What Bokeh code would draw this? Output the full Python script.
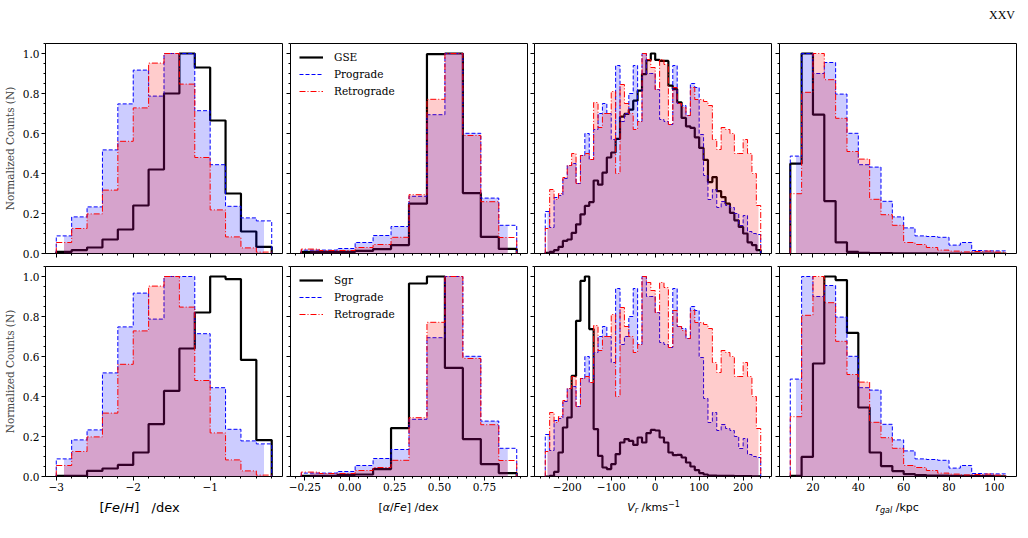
import numpy as np
from bokeh.plotting import figure
from bokeh.layouts import column, row
from bokeh.models import (Range1d, SingleIntervalTicker, CustomJSTickFormatter,
                          Legend, LegendItem)
from bokeh.core.properties import value
from bokeh.embed import file_html
from bokeh.resources import INLINE

# ---------------- data ----------------
feh_edges = [-3.0, -2.8, -2.6, -2.4, -2.2, -2.0, -1.8, -1.6, -1.4, -1.2, -1.0, -0.8, -0.6, -0.4, -0.2]
feh_gse = [0.008, 0.017, 0.03, 0.07, 0.12, 0.24, 0.42, 0.80, 1.0, 0.93, 0.665, 0.30, 0.11, 0.033]
feh_sgr = [0.003, 0.003, 0.028, 0.04, 0.058, 0.12, 0.262, 0.428, 0.64, 0.82, 1.0, 0.987, 0.583, 0.182]
feh_pro = [0.088, 0.183, 0.233, 0.518, 0.748, 0.917, 0.787, 1.0, 1.0, 0.714, 0.444, 0.236, 0.178, 0.163]
feh_ret = [0.055, 0.125, 0.198, 0.317, 0.561, 0.728, 0.952, 1.0, 0.847, 0.48, 0.218, 0.083, 0.028, 0.007]

afe_edges = [-0.27, -0.17, -0.07, 0.03, 0.13, 0.23, 0.33, 0.43, 0.53, 0.63, 0.73, 0.83, 0.93]
afe_gse = [0.008, 0.008, 0.008, 0.013, 0.022, 0.042, 0.249, 0.997, 1.0, 0.302, 0.083, 0.023]
afe_sgr = [0.003, 0.003, 0.008, 0.01, 0.037, 0.242, 0.965, 1.0, 0.543, 0.187, 0.062, 0.017]
afe_pro = [0.017, 0.017, 0.025, 0.055, 0.09, 0.135, 0.286, 0.694, 1.0, 0.601, 0.277, 0.141]
afe_ret = [0.022, 0.015, 0.015, 0.03, 0.045, 0.081, 0.294, 0.771, 1.0, 0.59, 0.259, 0.08]

vr_edges = np.arange(-250, 241, 10)
vr_gse = [0.003, 0.008, 0.017, 0.033, 0.063, 0.07, 0.103, 0.146, 0.196, 0.238,
          0.257, 0.365, 0.344, 0.404, 0.48, 0.505, 0.573, 0.684, 0.698, 0.719,
          0.764, 0.814, 0.897, 0.967, 1.0, 0.968, 0.963, 0.963, 0.839, 0.822,
          0.756, 0.678, 0.636, 0.628, 0.581, 0.528, 0.468, 0.357, 0.382, 0.312,
          0.282, 0.249, 0.203, 0.166, 0.133, 0.10, 0.056, 0.042, 0.017]
vr_sgr = [0.0, 0.003, 0.023, 0.12, 0.245, 0.295, 0.503, 0.778, 0.978, 1.0,
          0.737, 0.237, 0.103, 0.045, 0.037, 0.062, 0.112, 0.17, 0.187, 0.178,
          0.158, 0.195, 0.17, 0.217, 0.233, 0.23, 0.195, 0.17, 0.12, 0.107,
          0.108, 0.095, 0.07, 0.05, 0.032, 0.017, 0.01, 0.005, 0.004, 0.003,
          0.003, 0.003, 0.003, 0.002, 0.002, 0.002, 0.002, 0.001, 0.001]
vr_pro = [0.21, 0.13, 0.28, 0.29, 0.375, 0.44, 0.45, 0.35, 0.49, 0.60,
          0.47, 0.62, 0.70, 0.75, 0.70, 0.57, 0.94, 0.66, 0.70, 0.80,
          0.94, 0.66, 1.0, 0.90, 0.90, 0.82, 0.67, 0.66, 0.645, 0.94,
          0.75, 0.74, 0.69, 0.85, 0.83, 0.595, 0.39, 0.27, 0.32, 0.23,
          0.26, 0.24, 0.23, 0.20, 0.14, 0.19, 0.11, 0.10, 0.095]
vr_ret = [0.125, 0.32, 0.27, 0.30, 0.38, 0.44, 0.50, 0.35, 0.49, 0.50,
          0.47, 0.755, 0.63, 0.70, 0.70, 0.81, 0.40, 0.845, 0.75, 0.70,
          0.62, 0.66, 1.0, 0.97, 0.93, 0.82, 0.97, 0.945, 0.645, 0.83,
          0.75, 0.73, 0.69, 0.83, 0.77, 0.77, 0.76, 0.74, 0.57, 0.52,
          0.63, 0.62, 0.60, 0.50, 0.50, 0.57, 0.50, 0.40, 0.24]

rg_edges = np.arange(10, 106, 5)
rg_gse = [0.449, 1.0, 0.694, 0.262, 0.056, 0.008, 0.003, 0.002, 0.002, 0.001,
          0.001, 0.001, 0.001, 0.0, 0.0, 0.0, 0.0, 0.0, 0.0]
rg_sgr = [0.003, 0.098, 0.565, 1.0, 0.982, 0.718, 0.345, 0.12, 0.052, 0.027,
          0.012, 0.007, 0.005, 0.004, 0.003, 0.003, 0.002, 0.002, 0.001]
rg_pro = [0.487, 1.0, 0.90, 0.955, 0.797, 0.601, 0.444, 0.432, 0.261, 0.183,
          0.128, 0.088, 0.085, 0.081, 0.042, 0.055, 0.015, 0.013, 0.013]
rg_ret = [0.299, 0.806, 1.0, 0.869, 0.676, 0.51, 0.472, 0.271, 0.194, 0.141,
          0.055, 0.045, 0.03, 0.017, 0.012, 0.008, 0.01, 0.012, 0.007]

groups = ["GSE", "Sgr"]
series_labels = ["Prograde", "Retrograde"]
y_label = "Normalized Counts (N)"
header = "XXV"

# x-axis labels as (text, italic, size, baseline shift) pieces; "GAP" jumps to a fixed x
xlabels = [
    [("[", False, 13, 0), ("Fe", True, 13, 0), ("/", False, 13, 0), ("H", True, 13, 0), ("]", False, 13, 0), ("GAP", False, 0, 0), ("/dex", False, 13, 0)],
    [("[", False, 11, 0), ("α", True, 11, 0), ("/", False, 11, 0), ("Fe", True, 11, 0), ("]", False, 11, 0), (" /dex", False, 11, 0)],
    [("V", True, 11, 0), ("r", True, 8, 3), (" /kms", False, 11, 0), ("−1", False, 8, -4)],
    [("r", True, 11, 0), ("gal", True, 8, 3), (" /kpc", False, 11, 0)],
]

# ---------------- helpers ----------------
def outline(edges, counts):
    e = list(map(float, edges))
    xs, ys = [e[0]], [0.0]
    for i, c in enumerate(counts):
        xs += [e[i], e[i + 1]]
        ys += [c, c]
    xs.append(e[-1]); ys.append(0.0)
    return xs, ys

def midfill(edges, counts):
    e = list(map(float, edges))
    n = len(counts)
    cen = [(e[i] + e[i + 1]) / 2 for i in range(n)]
    xs, ys = [cen[0]], [counts[0]]
    for i in range(1, n):
        xs += [e[i], e[i]]
        ys += [counts[i - 1], counts[i]]
    xs.append(cen[-1]); ys.append(counts[-1])
    return xs, ys

CW = {'[': .390, ']': .390, '/': .337, 'F': .575, 'e': .615, 'H': .752, ' ': .318,
      'd': .635, 'x': .592, 'α': .659, 'V': .684, 'r': .411, 'k': .579, 'm': .974,
      's': .521, '−': .838, '1': .636, 'g': .635, 'a': .613, 'l': .278, 'p': .635, 'c': .550}

def text_width(t, size):
    return sum(CW.get(ch, 0.6) for ch in t) * size

SERIF = "DejaVu Serif"
FS = "10.5px"

panels = [
    dict(edges=feh_edges, main=(feh_gse, feh_sgr), pro=feh_pro, ret=feh_ret,
         xr=(-3.14, -0.06), interval=1.0, minor=5, fmt=0),
    dict(edges=afe_edges, main=(afe_gse, afe_sgr), pro=afe_pro, ret=afe_ret,
         xr=(-0.33, 0.99), interval=0.25, minor=5, fmt=2),
    dict(edges=vr_edges, main=(vr_gse, vr_sgr), pro=vr_pro, ret=vr_ret,
         xr=(-274.5, 264.5), interval=100, minor=5, fmt=0),
    dict(edges=rg_edges, main=(rg_gse, rg_sgr), pro=rg_pro, ret=rg_ret,
         xr=(5.25, 109.75), interval=20, minor=4, fmt=0),
]

borders_lr = [(45, 3), (5, 3), (4, 3), (5, 12)]
FW, FH = 237, 210
TOP_STRIP, BOT_STRIP = 30, 43
label_starts = [99, 378, 626.7, 875]
label_gap_to = 151

def fmt_js(nd):
    return CustomJSTickFormatter(code=f"return tick.toFixed({nd}).replace('-', '\u2212');")

blank = "return '';"

def strip(h):
    s = figure(frame_width=1028, frame_height=h, x_range=Range1d(0, 1028), y_range=Range1d(h, 0),
               output_backend="svg", toolbar_location=None, title=None,
               x_axis_type=None, y_axis_type=None,
               min_border_left=0, min_border_right=0, min_border_top=0, min_border_bottom=0)
    s.outline_line_color = None
    s.xgrid.visible = False
    s.ygrid.visible = False
    s.background_fill_color = "white"
    s.border_fill_color = "white"
    return s

top = strip(TOP_STRIP)
top.text(x=[1001.5], y=[14], text=[header], text_align="center", text_baseline="middle",
         text_font=value("Liberation Serif"), text_font_size="12px", text_color="black")

bottom = strip(BOT_STRIP)
for k, pieces in enumerate(xlabels):
    x = label_starts[k]
    base = 12
    for (t, ital, size, dy) in pieces:
        if t == "GAP":
            x = label_gap_to
            continue
        while t.startswith(" "):
            x += CW[' '] * size
            t = t[1:]
        bottom.text(x=[x], y=[base + dy], text=[t], text_align="left", text_baseline="alphabetic",
                    text_font=value("DejaVu Sans"), text_font_size=f"{size}px",
                    text_font_style="italic" if ital else "normal", text_color="black")
        x += text_width(t, size)

rows = [top]
for r in range(2):
    figs = []
    for c, pan in enumerate(panels):
        bl, br = borders_lr[c]
        p = figure(frame_width=FW, frame_height=FH,
                   x_range=Range1d(*pan["xr"]), y_range=Range1d(0, 1.05),
                   output_backend="svg", toolbar_location=None,
                   min_border_left=bl, min_border_right=br,
                   min_border_top=13 if r == 0 else 7,
                   min_border_bottom=6 if r == 0 else 19)
        p.xgrid.visible = False
        p.ygrid.visible = False
        p.outline_line_color = "black"
        p.outline_line_alpha = 1.0
        p.background_fill_color = "white"
        p.border_fill_color = "white"

        for ax in (p.xaxis[0], p.yaxis[0]):
            ax.axis_line_color = None
            ax.major_tick_out = 4
            ax.major_tick_in = 0
            ax.minor_tick_out = 2
            ax.minor_tick_in = 0
            ax.major_tick_line_color = "black"
            ax.minor_tick_line_color = "black"
            ax.major_label_text_font = SERIF
            ax.major_label_text_font_size = FS
            ax.major_label_text_color = "black"
            ax.major_label_standoff = 2
        p.xaxis.ticker = SingleIntervalTicker(interval=pan["interval"], num_minor_ticks=pan["minor"])
        p.yaxis.ticker = SingleIntervalTicker(interval=0.2, num_minor_ticks=4)

        if r == 1:
            p.xaxis.formatter = fmt_js(pan["fmt"])
        else:
            p.xaxis.formatter = CustomJSTickFormatter(code=blank)
            p.xaxis.major_label_standoff = 0
        if c == 0:
            p.yaxis.formatter = fmt_js(1)
            p.yaxis.axis_label = y_label
            p.yaxis.axis_label_text_font = SERIF
            p.yaxis.axis_label_text_font_size = FS
            p.yaxis.axis_label_text_font_style = "normal"
            p.yaxis.axis_label_standoff = 4
        else:
            p.yaxis.formatter = CustomJSTickFormatter(code=blank)
            p.yaxis.major_label_standoff = 0

        edges = pan["edges"]
        mx, my = outline(edges, pan["main"][r])
        r_main = p.line(mx, my, line_color="black", line_width=2.2)
        fx, fy = midfill(edges, pan["pro"])
        p.varea(x=fx, y1=[0] * len(fx), y2=fy, fill_color="blue", fill_alpha=0.2)
        px, py = outline(edges, pan["pro"])
        r_pro = p.line(px, py, line_color="blue", line_width=1, line_dash="4 2")
        fx, fy = midfill(edges, pan["ret"])
        p.varea(x=fx, y1=[0] * len(fx), y2=fy, fill_color="red", fill_alpha=0.2)
        rx, ry = outline(edges, pan["ret"])
        r_ret = p.line(rx, ry, line_color="red", line_width=1, line_dash="6 2 1 2")

        if c == 1:
            leg = Legend(items=[LegendItem(label=groups[r], renderers=[r_main]),
                                LegendItem(label=series_labels[0], renderers=[r_pro]),
                                LegendItem(label=series_labels[1], renderers=[r_ret])],
                         location=(9, FH - 7 - (3 * 14 + 2 * 3)))
            leg.border_line_color = None
            leg.background_fill_alpha = 0
            leg.label_text_font = SERIF
            leg.label_text_font_size = FS
            leg.label_text_color = "black"
            leg.glyph_width = 24
            leg.glyph_height = 14
            leg.label_height = 14
            leg.spacing = 3
            leg.padding = 0
            leg.margin = 0
            leg.label_standoff = 11
            p.add_layout(leg, "center")
        figs.append(p)
    rows.append(row(*figs))
rows.append(bottom)

layout = column(*rows)
open("out.html", "w").write(file_html(layout, INLINE))
